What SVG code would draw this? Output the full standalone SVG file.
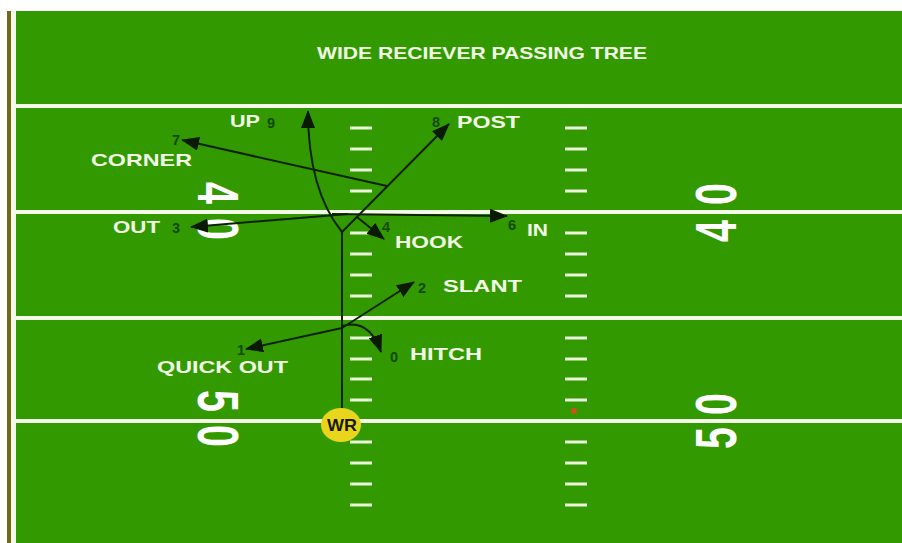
<svg xmlns="http://www.w3.org/2000/svg" width="902" height="543" viewBox="0 0 902 543">
  <defs>
    <style>
      .yard { stroke: #f4fbe8; stroke-width: 4; }
      .hash { stroke: #e9f6dc; stroke-width: 3; }
      .num { font-family: "Liberation Sans", Arial, sans-serif; font-weight: bold; font-size: 58px; fill: #ffffff; text-anchor: middle; }
      .lbl { font-family: "Liberation Sans", Arial, sans-serif; font-weight: bold; font-size: 17px; fill: #f2fbe6; }
      .rn { font-family: "Liberation Sans", Arial, sans-serif; font-weight: bold; font-size: 14.5px; fill: #134a06; }
      .route { fill: none; stroke: #0c2205; stroke-width: 2; }
      .arrowed { marker-end: url(#arrow); }
    </style>
    <marker id="arrow" viewBox="0 0 18 14" refX="17" refY="7" markerWidth="18" markerHeight="14" markerUnits="userSpaceOnUse" orient="auto">
      <path d="M0,0 L18,7 L0,14 z" fill="#0a1a04"/>
    </marker>
  </defs>

  <!-- background and playing surface -->
  <rect width="902" height="543" fill="#ffffff"/>
  <rect x="7" y="11" width="895" height="532" fill="#339900"/>
  <rect x="7" y="11" width="4" height="532" fill="#6e6a1c"/>
  <rect x="11" y="11" width="5" height="532" fill="#f6f8ea"/>

  <!-- yard lines -->
  <g id="yard-lines">
    <line class="yard" x1="16" y1="106" x2="902" y2="106"/>
    <line class="yard" x1="16" y1="212" x2="902" y2="212"/>
    <line class="yard" x1="16" y1="318" x2="902" y2="318"/>
    <line class="yard" x1="16" y1="421" x2="902" y2="421"/>
  </g>

  <!-- hash marks -->
  <g id="hash-marks">
    <g transform="translate(350,0)">
      <line class="hash" x1="0" y1="128" x2="22" y2="128"/>
      <line class="hash" x1="0" y1="149" x2="22" y2="149"/>
      <line class="hash" x1="0" y1="170" x2="22" y2="170"/>
      <line class="hash" x1="0" y1="191" x2="22" y2="191"/>
      <line class="hash" x1="0" y1="233" x2="22" y2="233"/>
      <line class="hash" x1="0" y1="254" x2="22" y2="254"/>
      <line class="hash" x1="0" y1="275" x2="22" y2="275"/>
      <line class="hash" x1="0" y1="296" x2="22" y2="296"/>
      <line class="hash" x1="0" y1="338" x2="22" y2="338"/>
      <line class="hash" x1="0" y1="359" x2="22" y2="359"/>
      <line class="hash" x1="0" y1="379" x2="22" y2="379"/>
      <line class="hash" x1="0" y1="400" x2="22" y2="400"/>
      <line class="hash" x1="0" y1="442" x2="22" y2="442"/>
      <line class="hash" x1="0" y1="463" x2="22" y2="463"/>
      <line class="hash" x1="0" y1="484" x2="22" y2="484"/>
      <line class="hash" x1="0" y1="505" x2="22" y2="505"/>
    </g>
    <g transform="translate(565,0)">
      <line class="hash" x1="0" y1="128" x2="22" y2="128"/>
      <line class="hash" x1="0" y1="149" x2="22" y2="149"/>
      <line class="hash" x1="0" y1="170" x2="22" y2="170"/>
      <line class="hash" x1="0" y1="191" x2="22" y2="191"/>
      <line class="hash" x1="0" y1="233" x2="22" y2="233"/>
      <line class="hash" x1="0" y1="254" x2="22" y2="254"/>
      <line class="hash" x1="0" y1="275" x2="22" y2="275"/>
      <line class="hash" x1="0" y1="296" x2="22" y2="296"/>
      <line class="hash" x1="0" y1="338" x2="22" y2="338"/>
      <line class="hash" x1="0" y1="359" x2="22" y2="359"/>
      <line class="hash" x1="0" y1="379" x2="22" y2="379"/>
      <line class="hash" x1="0" y1="400" x2="22" y2="400"/>
      <line class="hash" x1="0" y1="442" x2="22" y2="442"/>
      <line class="hash" x1="0" y1="463" x2="22" y2="463"/>
      <line class="hash" x1="0" y1="484" x2="22" y2="484"/>
      <line class="hash" x1="0" y1="505" x2="22" y2="505"/>
    </g>
  </g>

  <!-- field numbers (left side reads top-down, right side bottom-up) -->
  <g id="field-numbers">
    <text class="num" transform="translate(219,193) rotate(90) scale(0.68,1) translate(0,21)">4</text>
    <text class="num" transform="translate(219,229) rotate(90) scale(0.68,1) translate(0,21)">0</text>
    <text class="num" transform="translate(219,401) rotate(90) scale(0.68,1) translate(0,21)">5</text>
    <text class="num" transform="translate(219,436) rotate(90) scale(0.68,1) translate(0,21)">0</text>
    <text class="num" transform="translate(715,194) rotate(-90) scale(0.68,1) translate(0,21)">0</text>
    <text class="num" transform="translate(715,231) rotate(-90) scale(0.68,1) translate(0,21)">4</text>
    <text class="num" transform="translate(715,404) rotate(-90) scale(0.68,1) translate(0,21)">0</text>
    <text class="num" transform="translate(715,438) rotate(-90) scale(0.68,1) translate(0,21)">5</text>
  </g>

  <!-- title -->
  <text id="title" class="lbl" x="317" y="59" textLength="330" lengthAdjust="spacingAndGlyphs">WIDE RECIEVER PASSING TREE</text>

  <!-- route lines -->
  <g id="connectors">
    <path class="route" d="M342,409 L342,232"/>
    <path class="route arrowed" d="M342,232 Q308,190 308,111"/>
    <path class="route arrowed" d="M342,232 L449,124"/>
    <path class="route arrowed" d="M387,186 L182,140"/>
    <path class="route arrowed" d="M348,214 L191,227"/>
    <path class="route arrowed" d="M332,214 L507,216"/>
    <path class="route arrowed" d="M357,217 L384,239"/>
    <path class="route arrowed" d="M342,328 L414,282"/>
    <path class="route arrowed" d="M342,328 L246,349"/>
    <path class="route arrowed" d="M342,326 C362,320 374,332 381,352"/>
  </g>

  <!-- route labels -->
  <g id="route-0">
    <text class="rn" x="390" y="362">0</text>
    <text class="lbl" x="410" y="360" textLength="72" lengthAdjust="spacingAndGlyphs">HITCH</text>
  </g>
  <g id="route-1">
    <text class="rn" x="237" y="355">1</text>
    <text class="lbl" x="157" y="373" textLength="131" lengthAdjust="spacingAndGlyphs">QUICK OUT</text>
  </g>
  <g id="route-2">
    <text class="rn" x="418" y="293">2</text>
    <text class="lbl" x="443" y="292" textLength="79" lengthAdjust="spacingAndGlyphs">SLANT</text>
  </g>
  <g id="route-3">
    <text class="rn" x="172" y="233">3</text>
    <text class="lbl" x="113" y="233" textLength="47" lengthAdjust="spacingAndGlyphs">OUT</text>
  </g>
  <g id="route-4">
    <text class="rn" x="382" y="232">4</text>
    <text class="lbl" x="395" y="248" textLength="68" lengthAdjust="spacingAndGlyphs">HOOK</text>
  </g>
  <g id="route-6">
    <text class="rn" x="508" y="230">6</text>
    <text class="lbl" x="527" y="236" textLength="21" lengthAdjust="spacingAndGlyphs">IN</text>
  </g>
  <g id="route-7">
    <text class="rn" x="172" y="145">7</text>
    <text class="lbl" x="91" y="166" textLength="101" lengthAdjust="spacingAndGlyphs">CORNER</text>
  </g>
  <g id="route-8">
    <text class="rn" x="432" y="127">8</text>
    <text class="lbl" x="457" y="128" textLength="63" lengthAdjust="spacingAndGlyphs">POST</text>
  </g>
  <g id="route-9">
    <text class="rn" x="267" y="128">9</text>
    <text class="lbl" x="230" y="127" textLength="30" lengthAdjust="spacingAndGlyphs">UP</text>
  </g>

  <!-- ball spot -->
  <circle id="ball-spot" cx="574" cy="411" r="3" fill="#d0501a"/>

  <!-- receiver -->
  <g id="wr">
    <ellipse cx="341" cy="425" rx="20" ry="17" fill="#e8d51c"/>
    <text x="342" y="431" font-family="'Liberation Sans', Arial, sans-serif" font-weight="bold" font-size="17" fill="#1a1a0a" text-anchor="middle" textLength="30" lengthAdjust="spacingAndGlyphs">WR</text>
  </g>
</svg>
